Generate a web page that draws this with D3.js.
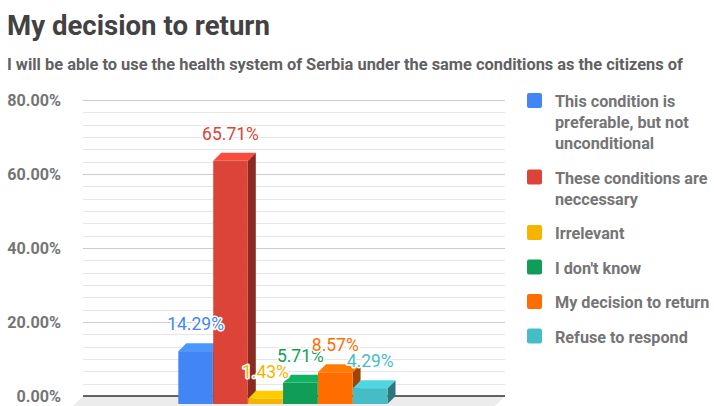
<!DOCTYPE html>
<html>
<head>
<meta charset="utf-8">
<script src="https://cdn.jsdelivr.net/npm/d3@7/dist/d3.min.js"></script>
<style>
  html, body { margin: 0; padding: 0; background: #fff; }
  svg { display: block; font-family: Roboto, "Noto Sans", sans-serif; }
</style>
</head>
<body>
<svg id="chart" width="714" height="406"></svg>
<script>
// Survey answers, one bar per answer
const answers = [
  "This condition is preferable, but not unconditional",
  "These conditions are neccessary",
  "Irrelevant",
  "I don't know",
  "My decision to return",
  "Refuse to respond"
];
const shares = [14.29, 65.71, 1.43, 5.71, 8.57, 4.29];
const legendLines = [
  ["This condition is", "preferable, but not", "unconditional"],
  ["These conditions are", "neccessary"],
  ["Irrelevant"],
  ["I don't know"],
  ["My decision to return"],
  ["Refuse to respond"]
];
const majorTicks = [0, 20, 40, 60, 80];
const colors = ["#4285f4", "#db4437", "#f4b400", "#0f9d58", "#ff6d01", "#46bdc6"];

const titleText = "My decision to return";
const subtitleText = "I will be able to use the health system of Serbia under the same conditions as the citizens of";

const svg = d3.select("#chart");

// Layout of the 3D plot: back wall spans plotLeft..plotRight, depth shifts front faces down-left
const plotLeft = 83, plotRight = 505, depth = 8;
const y = d3.scaleLinear().domain([0, 80]).range([396, 100]);
const x = d3.scaleBand().domain(answers).range([178.3, 387.5]).paddingInner(0.01);

// Titles
svg.append("text").attr("x", 7).attr("y", 35)
  .attr("font-size", 27.6).attr("font-weight", 700).attr("fill", "#424242")
  .text(titleText);
svg.append("text").attr("x", 7).attr("y", 70)
  .attr("font-size", 16.4).attr("font-weight", 700).attr("fill", "#616161")
  .text(subtitleText);

// Floor under the bars
svg.append("polygon")
  .attr("points", [[plotLeft, y(0)], [plotRight, y(0)], [plotRight - depth - 2, y(0) + depth + 2], [plotLeft - depth - 2, y(0) + depth + 2]].join(" "))
  .attr("fill", "#ececec");

// Gridlines: five minor lines between each major one
const minorTicks = d3.range(0, 80 + 1e-9, 20 / 6);
svg.append("g").selectAll("line").data(minorTicks).join("line")
  .attr("x1", plotLeft).attr("x2", plotRight)
  .attr("y1", d => Math.round(y(d)) + 0.5).attr("y2", d => Math.round(y(d)) + 0.5)
  .attr("stroke", "#e6e6e6").attr("stroke-width", 1);
svg.append("g").selectAll("line").data(majorTicks.filter(d => d > 0)).join("line")
  .attr("x1", plotLeft).attr("x2", plotRight)
  .attr("y1", d => Math.round(y(d)) + 0.5).attr("y2", d => Math.round(y(d)) + 0.5)
  .attr("stroke", "#cccccc").attr("stroke-width", 1.2);
svg.append("line")
  .attr("x1", plotLeft).attr("x2", plotRight)
  .attr("y1", y(0)).attr("y2", y(0))
  .attr("stroke", "#333").attr("stroke-width", 1.5);

// Y axis labels
const yAxis = d3.axisLeft(y).tickValues(majorTicks).tickSize(0).tickPadding(0)
  .tickFormat(d => d3.format(".2f")(d) + "%");
const axisG = svg.append("g").attr("transform", "translate(61,0)").call(yAxis);
axisG.select(".domain").remove();
axisG.selectAll("text")
  .attr("font-family", "Roboto, sans-serif").attr("font-size", 16.2).attr("font-weight", 700)
  .attr("fill", "#757575").attr("dy", "0.36em");

// 3D bars: front face, top face and right side face
const rows = answers.map((a, i) => ({ a, v: shares[i], c: colors[i] }));
const bars = svg.append("g").selectAll("g").data(rows).join("g");
bars.each(function (d) {
  const g = d3.select(this);
  const x0 = x(d.a), w = x.bandwidth();
  const yb = y(d.v), y0 = y(0);
  const base = d3.color(d.c);
  // side face
  g.append("polygon")
    .attr("points", [[x0 + w, yb + depth], [x0 + w + depth, yb], [x0 + w + depth, y0], [x0 + w, y0 + depth]].join(" "))
    .attr("fill", base.darker(1.3));
  // front face
  g.append("rect")
    .attr("x", x0).attr("y", yb + depth)
    .attr("width", w).attr("height", y0 - yb)
    .attr("fill", d.c);
  // top face
  g.append("polygon")
    .attr("points", [[x0, yb + depth], [x0 + depth, yb], [x0 + w + depth, yb], [x0 + w, yb + depth]].join(" "))
    .attr("fill", base.brighter(0.35));
});

// Value labels with a white halo
svg.append("g").selectAll("text").data(rows).join("text")
  .attr("x", d => x(d.a) + x.bandwidth() / 2)
  .attr("y", d => y(d.v) - 13)
  .attr("text-anchor", "middle")
  .attr("font-size", 17.5)
  .attr("fill", d => d.c)
  .attr("stroke", "#fff").attr("stroke-width", 3).attr("stroke-linejoin", "round")
  .attr("paint-order", "stroke")
  .text(d => d3.format(".2f")(d.v) + "%");

// Legend
const legend = svg.append("g");
let baseline = 107;
answers.forEach((a, i) => {
  legend.append("rect")
    .attr("x", 527).attr("y", baseline - 14)
    .attr("width", 15).attr("height", 15).attr("rx", 2)
    .attr("fill", colors[i]);
  const t = legend.append("text").attr("x", 555).attr("y", baseline)
    .attr("font-size", 16.2).attr("font-weight", 700).attr("fill", "#757575");
  legendLines[i].forEach((line, j) => {
    t.append("tspan").attr("x", 555).attr("y", baseline + j * 21).text(line);
  });
  baseline += (legendLines[i].length - 1) * 21 + 34.5;
});
</script>
</body>
</html>
